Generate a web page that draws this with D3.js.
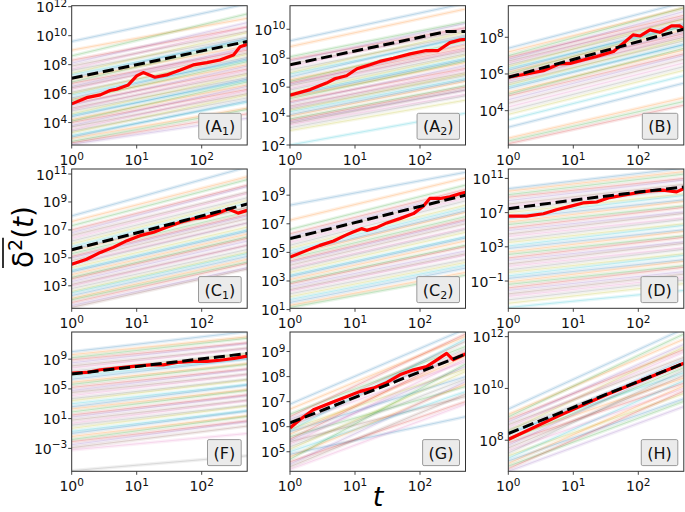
<!DOCTYPE html>
<html><head><meta charset="utf-8">
<script src="https://cdn.jsdelivr.net/npm/d3@7"></script>
<style>body{margin:0;background:#fff}svg{display:block}</style>
</head><body>
<svg id="chart" width="685" height="512"></svg>
<script>
// ---------- data (log10 values) ----------
const xTicks = [1, 10, 100];
const tMax = 500;

const bgStartA1 = [9.6,9.0,8.6,8.3,8.1,7.9,7.7,7.6,7.4,7.3,7.1,7.0,6.8,6.7,6.5,6.4,6.3,6.1,6.0,5.9,5.7,5.6,5.5,5.3,5.2,5.0,4.9,4.8,4.6,4.5,4.4,4.2,4.1,4.0,3.8,3.7,3.5,3.4,3.3,3.1,3.0,2.9,2.7,2.6,2.5];
const bgEndA1   = [12.2,11.2,11.5,10.6,10.9,10.3,10.6,9.9,10.2,9.7,9.8,9.3,9.6,9.0,9.2,8.8,9.1,8.5,8.7,8.3,8.4,8.0,8.2,7.7,7.9,7.4,7.6,7.1,7.3,6.9,7.0,6.6,6.8,6.3,6.5,6.0,6.2,5.7,5.9,5.4,5.5,5.0,4.9,4.6,4.3];
const redTA1 = [0,0.23,0.44,0.59,0.69,0.87,1.0,1.1,1.28,1.46,1.67,1.87,2.08,2.28,2.49,2.59,2.7];
const redYA1 = [5.29,5.72,5.91,6.21,6.30,6.6,7.22,7.45,7.13,7.29,7.63,7.98,8.14,8.32,8.67,9.24,9.4];
const dashTA1 = [0,2.7];
const dashYA1 = [7.06,9.6];
const yTicksA1 = [4,6,8,10,12];

const bgStartA2 = [9.2,8.8,8.1,7.9,7.8,7.6,7.4,7.2,7.0,6.9,6.7,6.5,6.4,6.3,6.2,6.1,5.9,5.8,5.6,5.5,5.4,5.3,5.2,5.0,4.9,4.7,4.6,4.5,4.4,4.3,4.1,4.0,3.8,3.7,3.6,3.5,3.4,3.2,3.0,2.0];
const bgEndA2   = [11.8,11.4,10.5,10.1,10.4,9.9,10.1,9.6,9.8,9.4,9.5,8.9,9.2,8.7,9.0,8.5,8.6,8.3,8.2,8.0,7.9,7.7,7.8,7.3,7.5,7.0,7.2,6.8,6.9,6.6,6.5,6.4,6.1,6.0,5.8,5.8,5.5,5.4,5.1,4.2];
const redTA2 = [0,0.31,0.56,0.69,0.87,1.03,1.23,1.38,1.59,1.85,2.1,2.28,2.46,2.62,2.7];
const redYA2 = [5.44,5.83,6.28,6.58,6.79,7.27,7.55,7.78,8.0,8.30,8.53,8.53,9.08,9.27,9.3];
const dashTA2 = [0,1.0,2.0,2.4,2.7];
const dashYA2 = [7.55,8.5,9.45,9.84,9.84];
const yTicksA2 = [2,4,6,8,10];

const bgStartB = [7.4,7.2,7.0,6.9,6.8,6.7,6.6,6.5,6.4,6.3,6.2,6.1,6.0,5.9,5.8,5.7,5.6,5.5,5.4,5.3,5.2,5.0,4.9,4.8,4.6,4.4,4.2,4.0,3.8,3.5,3.1,2.5,2.35,2.2];
const bgEndB   = [9.9,9.6,9.6,9.2,9.4,9.0,9.1,8.8,9.0,8.6,8.7,8.4,8.6,8.2,8.3,8.0,8.1,7.8,7.9,7.6,7.6,7.3,7.4,7.1,7.0,6.8,6.6,6.4,6.2,5.9,5.5,4.7,4.5,4.3];
const redTB = [0,0.28,0.54,0.79,0.95,1.15,1.36,1.62,1.77,1.92,2.03,2.18,2.33,2.51,2.64,2.7];
const redYB = [5.82,6.0,6.18,6.55,6.58,6.76,6.95,7.22,7.67,8.13,8.07,8.4,8.27,8.62,8.62,8.44];
const dashTB = [0,2.7];
const dashYB = [5.82,8.44];
const yTicksB = [4,6,8];

const bgStartC1 = [8.0,7.6,7.3,7.0,6.8,6.6,6.4,6.2,6.0,5.8,5.6,5.5,5.3,5.1,5.0,4.8,4.6,4.5,4.3,4.1,4.0,3.8,3.6,3.5,3.3,3.1,3.0,2.8,2.6,2.5,2.3,2.1,2.0,1.8,1.6,1.45];
const bgEndC1   = [11.5,10.8,10.6,10.2,10.1,9.7,9.6,9.3,9.1,8.9,8.6,8.6,8.3,8.1,8.0,7.8,7.5,7.5,7.2,7.0,6.9,6.7,6.5,6.4,6.2,5.9,5.9,5.6,5.4,5.3,5.1,4.9,4.7,4.6,4.3,4.2];
const redTC1 = [0,0.23,0.44,0.64,0.85,1.05,1.26,1.46,1.67,1.87,2.08,2.23,2.41,2.56,2.7];
const redYC1 = [4.54,4.90,5.39,5.75,6.23,6.59,6.83,7.19,7.55,7.80,7.92,8.16,8.5,8.2,8.4];
const dashTC1 = [0,2.7];
const dashYC1 = [5.58,8.85];
const yTicksC1 = [3,5,7,9,11];

const bgStartC2 = [8.3,7.25,6.6,6.3,6.1,5.9,5.7,5.5,5.3,5.1,4.9,4.8,4.6,4.4,4.3,4.1,3.9,3.8,3.6,3.4,3.3,3.1,2.9,2.8,2.6,2.4,2.3,2.1,1.9,1.7,1.5,1.3,1.15];
const bgEndC2   = [10.6,10.2,9.7,9.4,9.2,9.0,8.8,8.6,8.3,8.1,7.9,7.8,7.5,7.3,7.2,7.0,6.7,6.6,6.4,6.1,6.0,5.8,5.5,5.4,5.1,4.9,4.8,4.5,4.3,4.1,3.9,3.6,3.4];
const redTC2 = [0,0.26,0.46,0.67,0.85,0.97,1.10,1.18,1.33,1.49,1.69,1.90,2.05,2.15,2.31,2.46,2.62,2.7];
const redYC2 = [4.67,5.14,5.49,5.80,6.19,6.43,6.66,6.54,6.73,7.06,7.36,7.71,8.23,8.77,8.77,8.88,9.12,9.2];
const dashTC2 = [0,2.7];
const dashYC2 = [5.96,9.0];
const yTicksC2 = [1,3,5,7,9];

const bgStartD = [9.8,9.5,9.1,8.8,8.4,8.0,7.7,7.3,7.0,6.6,6.3,5.9,5.6,5.2,4.9,4.5,4.2,3.8,3.5,3.1,2.8,2.4,2.1,1.7,1.4,1.0,0.7,0.3,0.0,-0.4,-0.7,-1.1,-1.4,-1.8,-2.1,-2.5,-2.8,-3.2,-3.6,-4.1];
const bgEndD   = [12.2,11.8,11.5,11.0,10.8,10.3,10.0,9.7,9.2,9.0,8.5,8.3,7.8,7.6,7.1,6.9,6.4,6.2,5.7,5.5,5.0,4.8,4.3,4.1,3.6,3.4,2.9,2.7,2.2,2.0,1.5,1.3,0.8,0.6,0.1,-0.2,-0.6,-0.9,-1.3,-2.1];
const redTD = [0,0.28,0.54,0.74,0.95,1.15,1.36,1.56,1.77,1.97,2.18,2.38,2.59,2.7];
const redYD = [6.59,6.59,6.87,7.34,7.73,8.13,8.24,8.76,9.03,9.31,9.54,9.62,9.43,9.82];
const dashTD = [0,1.0,2.0,2.7];
const dashYD = [7.46,8.45,9.4,10.0];
const yTicksD = [-1,3,7,11];

const bgStartF = [10.0,9.6,9.2,8.9,8.5,8.1,7.8,7.4,7.0,6.7,6.3,5.9,5.6,5.2,4.8,4.5,4.1,3.7,3.4,3.0,2.6,2.3,1.9,1.5,1.2,0.8,0.4,0.1,-0.3,-0.7,-1.0,-1.4,-1.8,-2.1,-2.5,-2.9,-3.2,-6.0];
const bgEndF   = [12.7,12.0,11.8,11.2,11.1,10.5,10.4,9.8,9.7,9.1,9.0,8.4,8.3,7.7,7.6,7.0,6.9,6.3,6.2,5.6,5.5,4.9,4.8,4.2,4.1,3.5,3.4,2.8,2.7,2.1,2.0,1.4,1.3,0.7,0.6,0.0,-1.0,-4.0];
const redTF = [0,0.23,0.44,0.69,0.95,1.21,1.41,1.62,1.87,2.08,2.28,2.5,2.7];
const redYF = [7.13,7.21,7.57,7.79,8.02,8.24,8.24,8.55,8.69,8.69,8.85,9.1,9.4];
const dashTF = [0,2.7];
const dashYF = [7.0,9.75];
const yTicksF = [-3,1,5,9];

const bgStartG = [6.9,6.7,6.5,6.4,6.3,6.2,6.1,6.0,5.9,5.85,5.8,5.7,5.6,5.5,5.45,5.4,5.3,5.2,5.1,5.0,4.9,4.8,4.7,4.6,4.5,4.4,4.3];
const bgEndG   = [9.9,9.6,9.2,9.7,8.9,9.4,8.6,9.1,8.3,9.5,8.0,8.8,7.6,9.0,8.4,7.2,8.7,7.9,8.2,7.4,6.4,7.7,8.5,7.0,7.8,7.3,6.9];
const redTG = [0,0.15,0.36,0.62,0.82,1.08,1.28,1.49,1.69,1.90,2.10,2.26,2.41,2.51,2.62,2.7];
const redYG = [5.95,6.28,6.68,6.95,7.15,7.41,7.54,7.77,8.07,8.27,8.40,8.67,8.93,8.67,8.80,8.9];
const dashTG = [0,2.7];
const dashYG = [6.15,8.9];
const yTicksG = [5,6,7,8,9];

const bgStartH = [9.2,9.0,8.9,8.8,8.7,8.6,8.5,8.4,8.35,8.3,8.2,8.1,8.0,7.9,7.8,7.7,7.6,7.5,7.4,7.3,7.2,7.1,7.0,6.9,6.8];
const bgEndH   = [12.3,11.9,12.1,11.5,11.7,11.2,11.4,10.9,11.6,10.6,11.1,10.4,10.8,10.2,11.0,10.5,10.0,10.7,9.8,10.3,9.6,10.1,9.5,9.9,9.3];
const redTH = [0,0.8,1.5,2.7];
const redYH = [8.03,8.97,9.75,10.97];
const dashTH = [0,2.7];
const dashYH = [8.26,10.97];
const yTicksH = [8,10,12];

const tab10 = ["#1f77b4","#ff7f0e","#2ca02c","#d62728","#9467bd","#8c564b","#e377c2","#7f7f7f","#bcbd22","#17becf"];

// ---------- layout ----------
const colLeft = [71.7, 290, 508.3];
const rowTop = [5.7, 169, 332];
const W = 175.5, H = 139.3;

const panels = [
  {name:"A", sub:"1", c:0, r:0, lo:2.45, hi:12.07, bs:bgStartA1, be:bgEndA1, rt:redTA1, ry:redYA1, dt:dashTA1, dy:dashYA1, yt:yTicksA1},
  {name:"A", sub:"2", c:1, r:0, lo:2.0,  hi:11.63, bs:bgStartA2, be:bgEndA2, rt:redTA2, ry:redYA2, dt:dashTA2, dy:dashYA2, yt:yTicksA2},
  {name:"B", sub:"",  c:2, r:0, lo:2.13, hi:9.72,  bs:bgStartB,  be:bgEndB,  rt:redTB,  ry:redYB,  dt:dashTB,  dy:dashYB,  yt:yTicksB},
  {name:"C", sub:"1", c:0, r:1, lo:1.39, hi:11.36, bs:bgStartC1, be:bgEndC1, rt:redTC1, ry:redYC1, dt:dashTC1, dy:dashYC1, yt:yTicksC1},
  {name:"C", sub:"2", c:1, r:1, lo:1.09, hi:10.83, bs:bgStartC2, be:bgEndC2, rt:redTC2, ry:redYC2, dt:dashTC2, dy:dashYC2, yt:yTicksC2},
  {name:"D", sub:"",  c:2, r:1, lo:-4.19,hi:12.1,  bs:bgStartD,  be:bgEndD,  rt:redTD,  ry:redYD,  dt:dashTD,  dy:dashYD,  yt:yTicksD},
  {name:"F", sub:"",  c:0, r:2, lo:-6.08,hi:12.65, bs:bgStartF,  be:bgEndF,  rt:redTF,  ry:redYF,  dt:dashTF,  dy:dashYF,  yt:yTicksF},
  {name:"G", sub:"",  c:1, r:2, lo:4.22, hi:9.78,  bs:bgStartG,  be:bgEndG,  rt:redTG,  ry:redYG,  dt:dashTG,  dy:dashYG,  yt:yTicksG},
  {name:"H", sub:"",  c:2, r:2, lo:6.8,  hi:12.18, bs:bgStartH,  be:bgEndH,  rt:redTH,  ry:redYH,  dt:dashTH,  dy:dashYH,  yt:yTicksH}
];

const svg = d3.select("#chart");
const FONT = "DejaVu Sans, sans-serif";
const fmtExp = v => (v < 0 ? "\u2212" + Math.abs(v) : String(v));

function powLabel(sel, exp) {
  sel.append("tspan").text("10");
  sel.append("tspan").attr("font-size", "10.5px").attr("dy", "-5.5").text(fmtExp(exp));
}

panels.forEach((p, idx) => {
  const left = colLeft[p.c], top = rowTop[p.r];
  const x = d3.scaleLog().domain([1, Math.pow(10, 2.7)]).range([left, left + W]);
  const y = d3.scaleLog().domain([Math.pow(10, p.lo), Math.pow(10, p.hi)]).range([top + H, top]);
  const g = svg.append("g");
  const cid = "clip" + idx;
  g.append("clipPath").attr("id", cid).append("rect")
    .attr("x", left).attr("y", top).attr("width", W).attr("height", H);
  const plot = g.append("g").attr("clip-path", `url(#${cid})`);
  const line = d3.line().x(d => x(d[0])).y(d => y(d[1]));

  // background trajectories (wide, faint strokes to mimic the dense pastel bundle)
  p.bs.forEach((s, i) => {
    plot.append("path")
      .attr("d", line([[1, Math.pow(10, s)], [tMax, Math.pow(10, p.be[i])]]))
      .attr("fill", "none").attr("stroke", tab10[i % 10])
      .attr("stroke-width", 3.6).attr("stroke-opacity", 0.11);
  });
  p.bs.forEach((s, i) => {
    plot.append("path")
      .attr("d", line([[1, Math.pow(10, s)], [tMax, Math.pow(10, p.be[i])]]))
      .attr("fill", "none").attr("stroke", tab10[i % 10])
      .attr("stroke-width", 0.7).attr("stroke-opacity", 0.3);
  });
  // red
  plot.append("path")
    .attr("d", line(p.rt.map((t, i) => [Math.pow(10, t), Math.pow(10, p.ry[i])])))
    .attr("fill", "none").attr("stroke", "#ff0000").attr("stroke-width", 3.2)
    .attr("stroke-linejoin", "round");
  // dashed black
  plot.append("path")
    .attr("d", line(p.dt.map((t, i) => [Math.pow(10, t), Math.pow(10, p.dy[i])])))
    .attr("fill", "none").attr("stroke", "#000").attr("stroke-width", 3)
    .attr("stroke-dasharray", "11.1,4.8");

  // frame
  g.append("rect").attr("x", left).attr("y", top).attr("width", W).attr("height", H)
    .attr("fill", "none").attr("stroke", "#333").attr("stroke-width", 1);

  // x ticks
  xTicks.forEach(t => {
    const xp = x(t);
    g.append("line").attr("x1", xp).attr("x2", xp).attr("y1", top + H).attr("y2", top + H + 3.5)
      .attr("stroke", "#333").attr("stroke-width", 0.9);
    const tx = g.append("text").attr("x", xp).attr("y", top + H + 20)
      .attr("text-anchor", "middle").attr("font-family", FONT).attr("font-size", "14px").attr("fill", "#111");
    powLabel(tx, Math.round(Math.log10(t)));
  });
  // y ticks
  p.yt.forEach(e => {
    const yp = y(Math.pow(10, e));
    g.append("line").attr("x1", left - 3.5).attr("x2", left).attr("y1", yp).attr("y2", yp)
      .attr("stroke", "#333").attr("stroke-width", 0.9);
    const ty = g.append("text").attr("x", left - 4.5).attr("y", yp + 5.5)
      .attr("text-anchor", "end").attr("font-family", FONT).attr("font-size", "14px").attr("fill", "#111");
    powLabel(ty, e);
  });

  // panel label box
  const lb = g.append("g");
  const txt = lb.append("text").attr("font-family", FONT).attr("font-size", "16px").attr("fill", "#111")
    .attr("text-anchor", "end");
  txt.append("tspan").text("(" + p.name);
  if (p.sub) {
    txt.append("tspan").attr("font-size", "11px").attr("dy", "3").text(p.sub);
    txt.append("tspan").attr("dy", "-3").text(")");
  } else {
    txt.append("tspan").text(")");
  }
  const boxR = left + W - 6, boxB = top + H - 5.7, boxH = 26;
  txt.attr("x", boxR - 6).attr("y", boxB - boxH / 2 + 6);
  const bb = txt.node().getBBox();
  lb.insert("rect", "text").attr("x", bb.x - 6).attr("y", boxB - boxH)
    .attr("width", bb.width + 12).attr("height", boxH).attr("rx", 1.5)
    .attr("fill", "#ebebeb").attr("stroke", "#9a9a9a").attr("stroke-width", 1);
});

// y axis label: overline delta^2 (t)
const yl = svg.append("g").attr("transform", "translate(33,237) rotate(-90)");
const ylt = yl.append("text").attr("text-anchor", "middle").attr("font-family", FONT)
  .attr("font-size", "28px").attr("fill", "#000");
ylt.append("tspan").text("\u03b4");
ylt.append("tspan").attr("font-size", "19px").attr("dy", "-11").text("2");
ylt.append("tspan").attr("dy", "11").text("(");
ylt.append("tspan").attr("font-style", "italic").text("t");
ylt.append("tspan").text(")");
const n = ylt.node();
const x0 = n.getStartPositionOfChar(0).x, x1 = n.getEndPositionOfChar(1).x;
yl.append("line").attr("x1", x0).attr("x2", x1 + 1).attr("y1", -30).attr("y2", -30)
  .attr("stroke", "#000").attr("stroke-width", 1.6);

// x axis label
svg.append("text").attr("x", 378).attr("y", 506).attr("text-anchor", "middle")
  .attr("font-family", FONT).attr("font-size", "27px").attr("font-style", "italic").attr("fill", "#000").text("t");
</script>
</body></html>
